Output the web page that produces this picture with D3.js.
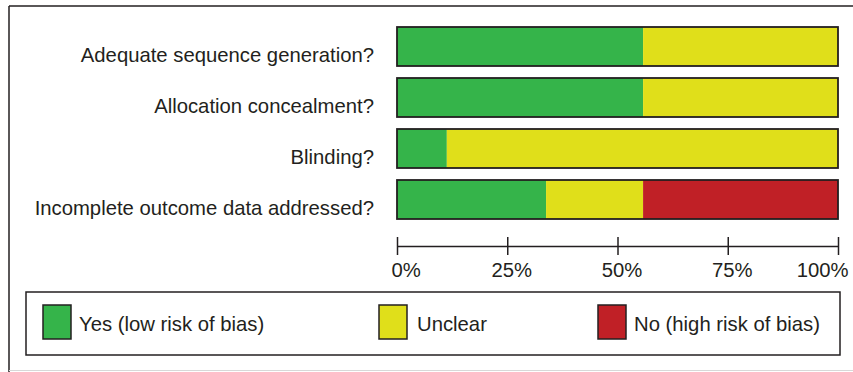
<!DOCTYPE html>
<html>
<head>
<meta charset="utf-8">
<script src="https://cdn.jsdelivr.net/npm/d3@7"></script>
<style>
  html, body { margin: 0; padding: 0; background: #fff; }
  svg { display: block; font-family: "Liberation Sans", Arial, Helvetica, sans-serif; }
</style>
</head>
<body>
<svg id="chart" width="853" height="372"></svg>
<script>
const categories = ["Adequate sequence generation?", "Allocation concealment?", "Blinding?", "Incomplete outcome data addressed?"];
const yesValues = [55.8, 55.8, 11.3, 33.8];
const unclearValues = [44.2, 44.2, 88.7, 22.0];
const noValues = [0, 0, 0, 44.2];
const seriesKeys = ["yes", "unclear", "no"];
const legendLabels = ["Yes (low risk of bias)", "Unclear", "No (high risk of bias)"];
const seriesColors = ["#35b44a", "#e0df1a", "#c02026"];
const tickValues = [0, 25, 50, 75, 100];

const ink = "#231f20";
const fs = 20.3;
const svg = d3.select("#chart");

// outer frame (top and left dark, bottom light)
svg.append("line").attr("x1", 9).attr("x2", 853).attr("y1", 6).attr("y2", 6).attr("stroke", ink).attr("stroke-width", 1.5);
svg.append("line").attr("x1", 9).attr("x2", 9).attr("y1", 6).attr("y2", 372).attr("stroke", ink).attr("stroke-width", 1.5);
svg.append("line").attr("x1", 9).attr("x2", 853).attr("y1", 370.5).attr("y2", 370.5).attr("stroke", "#d8d8d8").attr("stroke-width", 1);

const x = d3.scaleLinear().domain([0, 100]).range([397, 838]);
const y = d3.scaleBand().domain(categories).range([21, 225]).paddingInner(12 / 51).paddingOuter(6 / 51);

const rows = categories.map((c, i) => ({ cat: c, yes: yesValues[i], unclear: unclearValues[i], no: noValues[i] }));
const stacked = d3.stack().keys(seriesKeys)(rows);

const gBars = svg.append("g");
stacked.forEach((layer, k) => {
  gBars.selectAll(null).data(layer).join("rect")
    .attr("x", d => x(d[0]))
    .attr("width", d => x(d[1]) - x(d[0]))
    .attr("y", d => y(d.data.cat))
    .attr("height", y.bandwidth())
    .attr("fill", seriesColors[k]);
});
gBars.selectAll(".outline").data(categories).join("rect")
  .attr("class", "outline")
  .attr("x", x(0)).attr("width", x(100) - x(0))
  .attr("y", d => y(d)).attr("height", y.bandwidth())
  .attr("fill", "none").attr("stroke", ink).attr("stroke-width", 1.8);

// category labels
svg.append("g").selectAll("text").data(categories).join("text")
  .attr("x", 374)
  .attr("y", d => y(d) + y.bandwidth() / 2 + 15)
  .attr("text-anchor", "end")
  .attr("font-size", fs)
  .attr("fill", ink)
  .text(d => d);

// axis
const axis = d3.axisBottom(x).tickValues(tickValues).tickFormat(d => d + "%").tickSizeOuter(0).tickSizeInner(9);
const gAxis = svg.append("g").attr("transform", "translate(0,246)").call(axis);
gAxis.select(".domain").attr("stroke", ink).attr("stroke-width", 1.5);
gAxis.selectAll(".tick line").attr("y1", -9).attr("y2", 9).attr("stroke", ink).attr("stroke-width", 1.5);
gAxis.selectAll(".tick text")
  .attr("y", 31).attr("dy", null)
  .attr("font-size", fs)
  .attr("font-family", "Liberation Sans, Arial, sans-serif")
  .attr("fill", ink)
  .attr("text-anchor", (d, i) => i === 0 ? "start" : (i === tickValues.length - 1 ? "end" : "middle"))
  .attr("dx", (d, i) => i === 0 ? -6 : (i === tickValues.length - 1 ? 10 : 4));

// legend
svg.append("rect").attr("x", 26).attr("y", 292).attr("width", 814).attr("height", 63)
  .attr("fill", "none").attr("stroke", ink).attr("stroke-width", 1.5);
const gLeg = svg.append("g").selectAll("g").data(seriesKeys).join("g")
  .attr("transform", (d, i) => `translate(${[43, 379, 598][i]},305)`);
gLeg.append("rect").attr("width", 28).attr("height", 34)
  .attr("fill", (d, i) => seriesColors[i]).attr("stroke", ink).attr("stroke-width", 1.5);
gLeg.append("text").attr("x", (d, i) => [36, 38, 36][i]).attr("y", 26)
  .attr("font-size", fs).attr("fill", ink)
  .text((d, i) => legendLabels[i]);
</script>
</body>
</html>
